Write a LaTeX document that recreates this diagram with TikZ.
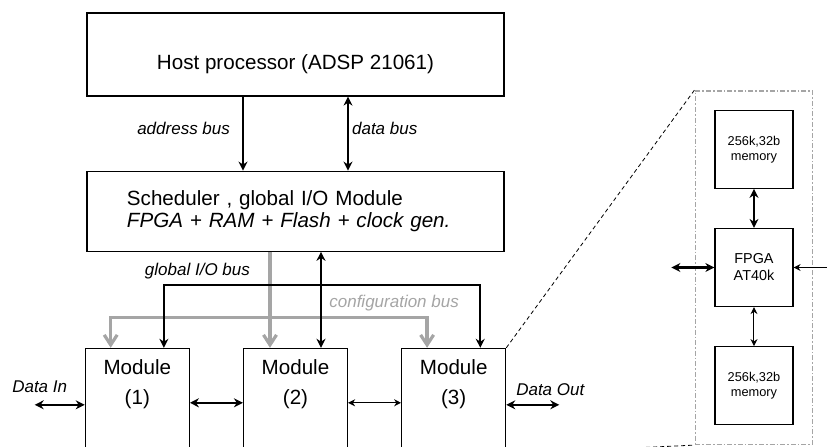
\documentclass[tikz,border=0pt]{standalone}
\usepackage{fontspec}
\setmainfont{Liberation Sans}
\usetikzlibrary{arrows.meta,positioning,fit}
\definecolor{busgray}{RGB}{165,165,165}

\begin{document}
\begin{tikzpicture}[
  node distance=5mm,
  font=\fontsize{10.3}{15}\selectfont,
  box/.style={draw,line width=.6pt,minimum width=208.5pt,minimum height=41.5pt},
  module/.style={draw,line width=.6pt,minimum width=52pt,minimum height=52.5pt},
  modtext/.style={anchor=north,yshift=-5.5pt,inner sep=0pt,align=center},
  chip/.style={draw,line width=.6pt,minimum size=39pt,align=center,font=\fontsize{6.4}{7.5}\selectfont},
  lbl/.style={font=\fontsize{8.5}{10}\selectfont\itshape,inner sep=1.5pt},
  >={Stealth[length=4.5pt,width=4.5pt]},
  bus/.style={line width=1.1pt},
  thinbus/.style={line width=.5pt,>={Stealth[length=3.5pt,width=3.5pt]}},
  cfg/.style={busgray,line width=1.6pt,>={Straight Barb[length=5pt,width=6.5pt]}},
  zoomline/.style={dash pattern=on 2pt off 1.5pt,line width=.4pt},
  zoombox/.style={draw=busgray,dash pattern=on 2.5pt off 1pt on .8pt off 1pt,line width=.8pt,inner sep=9.5pt}
]
\useasboundingbox (-147.75pt,27.25pt) rectangle (265.75pt,-195.75pt);
\clip (-147.75pt,27.25pt) rectangle (265.75pt,-195.75pt);

% Host and scheduler
\node[box,text height=17.5pt] (host) {Host processor (ADSP 21061)};
\node[box,below=37pt of host,minimum height=40pt,text width=168.5pt,align=left,
  font=\fontsize{10.3}{11}\selectfont] (sched) {Scheduler , global I/O Module\\\textit{FPGA + RAM + Flash + clock gen.}};
\draw[bus,->] ([xshift=-26.25pt]host.south) -- ([xshift=-26.25pt]sched.north)
  node[lbl,midway,left=4.5pt,yshift=2.5pt] {address bus};
\draw[bus,<->] ([xshift=26.25pt]host.south) -- ([xshift=26.25pt]sched.north)
  node[lbl,midway,right,yshift=2.5pt] {data bus};

% Modules
\node[module,below=48pt of sched,label={[modtext]north:Module\\(2)}] (m2) {};
\node[module,left=26.5pt of m2,label={[modtext]north:Module\\(1)}] (m1) {};
\node[module,right=26.5pt of m2,label={[modtext]north:Module\\(3)}] (m3) {};

% configuration bus
\draw[cfg,->] ([xshift=-12.75pt]sched.south) -- ([xshift=-12.75pt]sched.south |- m2.north);
\draw[cfg,<->] ([xshift=13pt]m1.north west) -- ++(0,15pt)
  -| node[lbl,busgray,pos=.5,above=1pt,xshift=-16.5pt] {configuration bus} ([xshift=13pt]m3.north west);

% global I/O bus
\draw[bus,<->] ([xshift=-13pt]m1.north east) -- ++(0,31.5pt)
  node[lbl,above right,xshift=-11.5pt,yshift=1pt] {global I/O bus}
  -| ([xshift=-13pt]m3.north east);
\draw[bus,<->] ([xshift=12.75pt]sched.south) -- ([xshift=12.75pt]sched.south |- m2.north);

\draw[bus,<->] ([yshift=-27.5pt]m1.north east) -- ([yshift=-27.5pt]m2.north west);
\draw[thinbus,<->] ([yshift=-27.5pt]m2.north east) -- ([yshift=-27.5pt]m3.north west);

\coordinate (din) at ([shift={(-25pt,-28.5pt)}]m1.north west);
\draw[bus,<->] (din) -- ([yshift=-28.5pt]m1.north west);
\node[lbl,above=4.5pt of din,xshift=2.5pt] (datain) {Data In};
\coordinate (dout) at ([shift={(26.5pt,-28.5pt)}]m3.north east);
\draw[bus,<->] ([yshift=-28.5pt]m3.north east) -- (dout);
\node[lbl,above=3pt of dout,xshift=-4.5pt] (dataout) {Data Out};

% Module detail
\node[chip,font=\fontsize{7.2}{8.5}\selectfont] (fpga) at (229.25pt,-106.5pt) {FPGA\\AT40k};
\node[chip,above=19.5pt of fpga] (memtop) {256k,32b\\memory};
\node[chip,below=19.5pt of fpga] (membot) {256k,32b\\memory};
\node[zoombox,fit=(memtop)(membot)] (detail) {};
\draw[bus,<->] (memtop) -- (fpga);
\draw[thinbus,<->] (fpga) -- (membot);
\coordinate (fin) at ([xshift=-21.5pt]fpga.west);
\draw[bus,<->] (fin) -- (fpga.west);
\coordinate (fout) at ([xshift=17pt]fpga.east);
\draw[thinbus,->] (fout) -- (fpga.east);
\draw[zoomline] (m3.north east) -- (detail.north west);
\draw[zoomline] (m3.south east) -- (detail.south west);
\end{tikzpicture}
\end{document}
